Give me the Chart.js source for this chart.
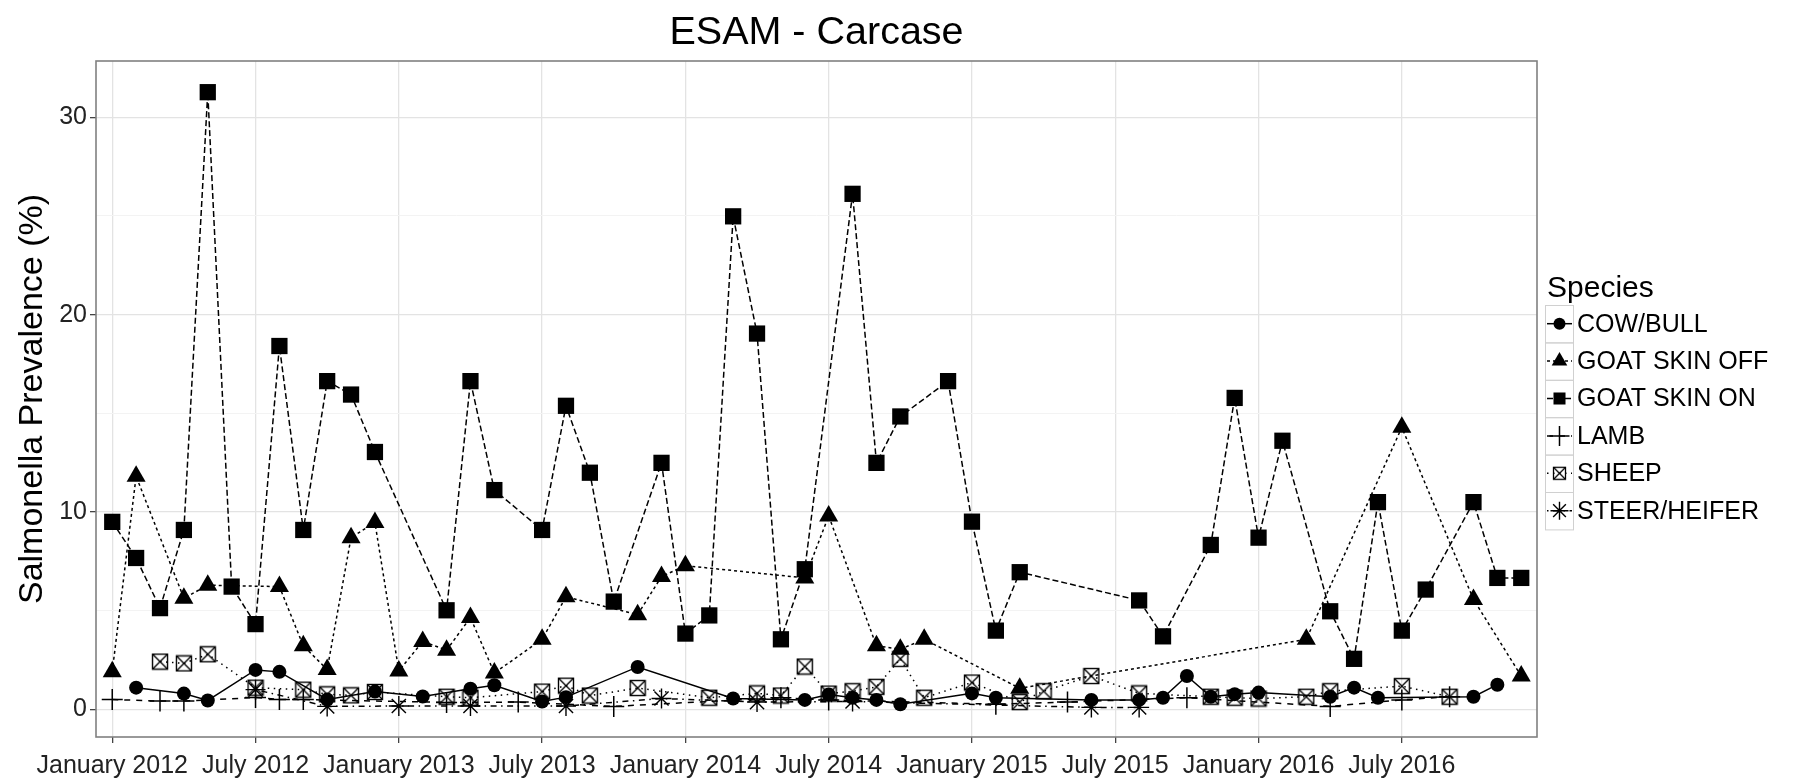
<!DOCTYPE html>
<html>
<head>
<meta charset="utf-8">
<script src="https://cdn.jsdelivr.net/npm/chart.js@4.4.1/dist/chart.umd.min.js"></script>
<style>
  html, body { margin: 0; padding: 0; background: #ffffff; }
  #wrap { width: 1811px; height: 781px; position: relative; }
</style>
</head>
<body>
<div id="wrap"><canvas id="chart" width="1811" height="781"></canvas></div>
<script>
// Monthly sampling periods (index 0 = January 2012)
const months = [
  '2012-01','2012-02','2012-03','2012-04','2012-05','2012-06','2012-07','2012-08','2012-09','2012-10','2012-11','2012-12',
  '2013-01','2013-02','2013-03','2013-04','2013-05','2013-06','2013-07','2013-08','2013-09','2013-10','2013-11','2013-12',
  '2014-01','2014-02','2014-03','2014-04','2014-05','2014-06','2014-07','2014-08','2014-09','2014-10','2014-11','2014-12',
  '2015-01','2015-02','2015-03','2015-04','2015-05','2015-06','2015-07','2015-08','2015-09','2015-10','2015-11','2015-12',
  '2016-01','2016-02','2016-03','2016-04','2016-05','2016-06','2016-07','2016-08','2016-09','2016-10','2016-11','2016-12'
];

const xTickLabels = ['January 2012','July 2012','January 2013','July 2013','January 2014',
                     'July 2014','January 2015','July 2015','January 2016','July 2016'];
const xTickMonths = [0, 6, 12, 18, 24, 30, 36, 42, 48, 54];
const yMajorTicks = [0, 10, 20, 30];
const yMinorTicks = [5, 15, 25];

// Salmonella prevalence (%) by month; null = not sampled
const cowBull = [
  null,1.1,null,0.8,0.45,null,2.0,1.9,null,0.5,null,0.9,
  null,0.65,null,1.05,1.22,null,0.4,0.62,null,null,2.15,null,
  null,null,0.55,null,null,0.48,0.75,0.59,0.48,0.26,null,null,
  0.81,0.59,null,null,null,0.48,null,0.48,0.59,1.69,0.64,0.77,
  0.85,null,null,0.64,1.1,0.59,null,null,null,0.64,1.25,null
];
const goatSkinOff = [
  1.91,11.81,null,5.63,6.29,null,null,6.22,3.22,2.02,8.7,9.47,
  1.95,3.44,3.0,4.65,1.84,null,3.55,5.7,null,null,4.8,6.73,
  7.28,null,null,null,null,6.66,9.8,null,3.22,3.05,3.55,null,
  null,null,1.07,null,null,null,null,null,null,null,null,null,
  null,null,3.55,null,null,null,14.29,null,null,5.57,null,1.69
];
const goatSkinOn = [
  9.5,7.67,5.13,9.09,31.27,6.22,4.32,18.41,9.09,16.63,15.95,13.04,
  null,null,5.02,16.63,11.11,null,9.09,15.38,11.99,5.46,null,12.49,
  3.84,4.76,24.98,19.04,3.55,7.1,null,26.12,12.49,14.84,null,16.63,
  9.51,3.99,6.95,null,null,null,null,5.52,3.7,null,8.33,15.78,
  8.7,13.61,null,4.97,2.56,10.5,3.99,6.07,null,10.5,6.66,6.66
];
const lamb = [
  0.5,null,0.42,0.42,null,null,0.6,0.5,0.5,null,null,null,
  null,null,0.35,null,null,0.37,null,null,null,0.15,null,null,
  null,null,null,null,0.59,null,0.48,null,null,null,null,null,
  null,0.26,null,null,0.37,null,null,null,null,0.59,null,null,
  null,null,null,0.15,null,null,0.48,null,0.64,null,null,null
];
const sheep = [
  null,null,2.42,2.33,2.79,null,1.1,null,1.0,0.76,0.71,0.88,
  null,null,0.64,0.59,null,null,0.9,1.2,0.7,null,1.08,null,
  null,0.59,null,0.81,0.7,2.17,0.8,0.92,1.14,2.56,0.59,null,
  1.36,null,0.37,0.92,null,1.69,null,0.81,null,null,0.64,0.59,
  0.55,null,0.64,0.92,null,null,1.18,null,0.64,null,null,null
];
const steerHeifer = [
  null,null,null,null,null,null,1.0,null,null,0.15,null,null,
  0.17,null,null,0.17,null,null,null,0.17,null,null,null,0.55,
  null,null,null,0.37,null,null,null,0.4,null,null,null,null,
  null,null,null,null,null,0.1,null,0.1,null,null,null,null,
  null,null,null,null,null,null,null,null,null,null,null,null
];

const FONT = '"Liberation Sans", Arial, Helvetica, sans-serif';

// square with a diagonal cross (open marker)
function squareCross(size, lw) {
  const c = document.createElement('canvas');
  const s = Math.ceil(size + lw * 2);
  c.width = s; c.height = s;
  const g = c.getContext('2d');
  const o = (s - size) / 2;
  g.strokeStyle = '#000';
  g.lineWidth = lw;
  g.strokeRect(o, o, size, size);
  g.beginPath();
  g.moveTo(o, o); g.lineTo(o + size, o + size);
  g.moveTo(o + size, o); g.lineTo(o, o + size);
  g.stroke();
  return c;
}

function toPoints(values) {
  return values.map((v, i) => ({ x: i, y: v }));
}

function series(label, values, style, radius, dash, pbw) {
  return {
    label: label,
    data: toPoints(values),
    borderColor: '#000',
    backgroundColor: '#000',
    borderWidth: 1.5,
    borderDash: dash,
    pointStyle: style,
    pointRadius: radius,
    pointHoverRadius: radius,
    pointBackgroundColor: '#000',
    pointBorderColor: '#000',
    pointBorderWidth: pbw,
    spanGaps: true,
    tension: 0
  };
}

const sheepMarker = squareCross(15, 1.4);
const sheepLegendMarker = squareCross(12, 1.3);

const datasets = [
  series('COW/BULL', cowBull, 'circle', 7, [], 0),
  series('GOAT SKIN OFF', goatSkinOff, 'triangle', 11, [3, 3], 0),
  series('GOAT SKIN ON', goatSkinOn, 'rect', 11.5, [6, 3], 0),
  series('LAMB', lamb, 'cross', 10.5, [6, 6], 1.5),
  series('SHEEP', sheep, sheepMarker, 8, [1.5, 4.5], 1.4),
  series('STEER/HEIFER', steerHeifer, 'star', 10, [1.5, 4.5, 6, 4.5], 1.4)
];
const legendStyles = ['circle', 'triangle', 'rect', 'cross', sheepLegendMarker, 'star'];
const legendRadius = [6, 9, 8.5, 10, 7, 9];

// grey panel outline drawn over the data
const panelBorder = {
  id: 'panelBorder',
  afterDatasetsDraw(chart) {
    const { ctx, chartArea: a } = chart;
    ctx.save();
    ctx.strokeStyle = '#808080';
    ctx.lineWidth = 1.6;
    ctx.strokeRect(a.left, a.top, a.right - a.left, a.bottom - a.top);
    ctx.restore();
  }
};

// key boxes with line + marker for each species
const speciesLegend = {
  id: 'speciesLegend',
  afterDraw(chart) {
    const ctx = chart.ctx;
    const x0 = 1545, top = 305, row = 37.4, w = 28;
    ctx.save();
    ctx.fillStyle = '#000';
    ctx.font = '30px ' + FONT;
    ctx.textAlign = 'left';
    ctx.textBaseline = 'alphabetic';
    ctx.fillText('Species', 1547, 297);
    chart.data.datasets.forEach((ds, i) => {
      const y = top + i * row;
      const cy = y + row / 2;
      ctx.setLineDash([]);
      ctx.strokeStyle = '#d0d0d0';
      ctx.lineWidth = 1;
      ctx.strokeRect(x0 + 0.5, y + 0.5, w, row);
      ctx.strokeStyle = '#000';
      ctx.lineWidth = ds.borderWidth;
      ctx.setLineDash(ds.borderDash);
      ctx.beginPath();
      ctx.moveTo(x0 + 2, cy);
      ctx.lineTo(x0 + w - 1, cy);
      ctx.stroke();
      ctx.setLineDash([]);
      ctx.fillStyle = '#000';
      ctx.lineWidth = ds.pointBorderWidth || 1;
      Chart.helpers.drawPoint(ctx, {
        pointStyle: legendStyles[i],
        radius: legendRadius[i],
        rotation: 0,
        borderWidth: ds.pointBorderWidth
      }, x0 + w / 2 + 0.5, cy);
      ctx.fillStyle = '#000';
      ctx.font = '25px ' + FONT;
      ctx.textBaseline = 'middle';
      ctx.fillText(ds.label, 1577, cy + 1);
    });
    ctx.restore();
  }
};

new Chart(document.getElementById('chart'), {
  type: 'line',
  data: { datasets: datasets },
  plugins: [panelBorder, speciesLegend],
  options: {
    responsive: false,
    animation: false,
    events: [],
    layout: { padding: { left: 0, right: 274, top: 0, bottom: 0 } },
    plugins: {
      legend: { display: false },
      tooltip: { enabled: false },
      title: {
        display: true,
        text: 'ESAM - Carcase',
        fullSize: false,
        color: '#000',
        font: { family: FONT, size: 39.5, weight: 'normal' },
        padding: { top: 9, bottom: 4.6 }
      }
    },
    scales: {
      x: {
        type: 'linear',
        min: -0.68,
        max: 59.66,
        afterBuildTicks(scale) {
          scale.ticks = xTickMonths.map(v => ({ value: v }));
        },
        afterFit(scale) { scale.height = 44; },
        ticks: {
          autoSkip: false,
          maxRotation: 0,
          padding: 8,
          color: '#222',
          font: { family: FONT, size: 25 },
          callback: (v) => xTickLabels[xTickMonths.indexOf(v)]
        },
        grid: { color: '#e3e3e3', lineWidth: 1.3, tickLength: 6, tickColor: '#444', drawTicks: true },
        border: { display: false }
      },
      y: {
        type: 'linear',
        min: -1.4,
        max: 32.85,
        afterBuildTicks(scale) {
          scale.ticks = yMajorTicks.concat(yMinorTicks).sort((a, b) => a - b).map(v => ({ value: v }));
        },
        afterFit(scale) { scale.width = 96; },
        ticks: {
          padding: 3,
          color: '#222',
          font: { family: FONT, size: 25 },
          callback: (v) => (yMajorTicks.includes(v) ? String(v) : '')
        },
        grid: {
          color: (c) => (c.tick && yMajorTicks.includes(c.tick.value) ? '#e3e3e3' : '#f3f3f3'),
          lineWidth: (c) => (c.tick && yMajorTicks.includes(c.tick.value) ? 1.3 : 1),
          tickLength: 6,
          tickColor: (c) => (c.tick && yMajorTicks.includes(c.tick.value) ? '#444' : 'rgba(0,0,0,0)')
        },
        border: { display: false },
        title: {
          display: true,
          text: 'Salmonella Prevalence (%)',
          color: '#000',
          font: { family: FONT, size: 34 },
          padding: { top: 12, bottom: 0 }
        }
      }
    }
  }
});
</script>
</body>
</html>
